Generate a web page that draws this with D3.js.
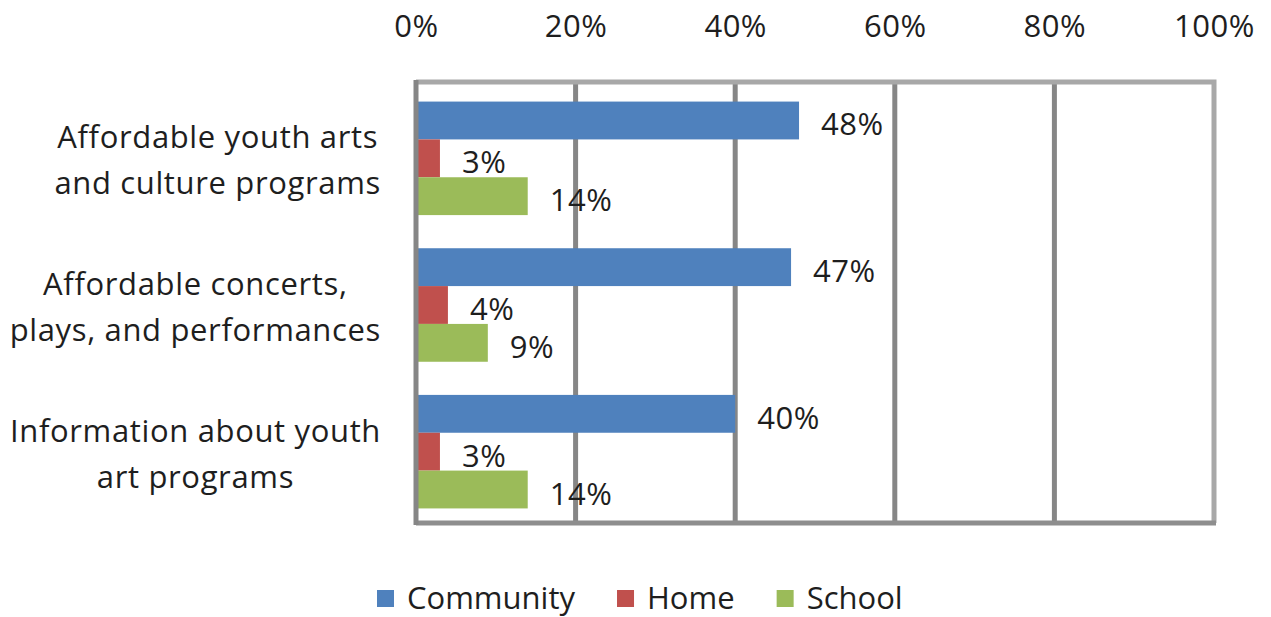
<!DOCTYPE html>
<html>
<head>
<meta charset="utf-8">
<script src="https://cdn.jsdelivr.net/npm/d3@7"></script>
<style>
  html, body { margin: 0; padding: 0; background: #ffffff; }
  svg { display: block; }
  text { font-family: "Open Sans", "DejaVu Sans", sans-serif; fill: #1e1e1e; }
</style>
</head>
<body>
<svg id="chart" width="1271" height="617"></svg>
<script>
// ---- data ----
const categories = [
  ["Affordable youth arts", "and culture programs"],
  ["Affordable concerts,", "plays, and performances"],
  ["Information about youth", "art programs"]
];
const seriesNames = ["Community", "Home", "School"];
const community = [48, 47, 40];
const home = [3, 4, 3];
const school = [14, 9, 14];
const xTicks = [0, 20, 40, 60, 80, 100];
const colors = ["#4F81BD", "#C0504D", "#9BBB59"];

const seriesValues = [community, home, school];
const catIds = categories.map((c, i) => i);

const svg = d3.select("#chart");
const plot = { left: 416, right: 1214, top: 82, bottom: 523 };
const fontSize = 31;

const x = d3.scaleLinear().domain([0, 100]).range([plot.left, plot.right]);
const y = d3.scaleBand().domain(catIds).range([85, 525]).paddingInner(0.226).paddingOuter(0.113);
const ySub = d3.scaleBand().domain(seriesNames).range([0, y.bandwidth()]).padding(0);

// gridlines
svg.append("g").selectAll("line")
  .data(xTicks.filter(t => t > 0 && t < 100))
  .join("line")
  .attr("x1", d => x(d)).attr("x2", d => x(d))
  .attr("y1", plot.top).attr("y2", plot.bottom)
  .attr("stroke", "#868686").attr("stroke-width", 5);

// top & right border (lighter)
svg.append("path")
  .attr("d", `M${plot.left},${plot.top}H${plot.right}V${plot.bottom}`)
  .attr("fill", "none").attr("stroke", "#a8a8a8").attr("stroke-width", 5);
// bottom border
svg.append("line")
  .attr("x1", plot.left).attr("x2", plot.right + 2)
  .attr("y1", plot.bottom).attr("y2", plot.bottom)
  .attr("stroke", "#8e8e8e").attr("stroke-width", 5);

// bars
const rows = [];
catIds.forEach(ci => seriesNames.forEach((s, si) => rows.push({ ci, s, si, v: seriesValues[si][ci] })));

svg.append("g").selectAll("rect")
  .data(rows)
  .join("rect")
  .attr("x", x(0))
  .attr("y", d => y(d.ci) + ySub(d.s))
  .attr("width", d => x(d.v) - x(0))
  .attr("height", ySub.bandwidth())
  .attr("fill", d => colors[d.si]);

// left axis line (vertical)
svg.append("line")
  .attr("x1", plot.left).attr("x2", plot.left)
  .attr("y1", plot.top - 2).attr("y2", plot.bottom + 2)
  .attr("stroke", "#868686").attr("stroke-width", 5);

// value labels
svg.append("g").selectAll("text")
  .data(rows)
  .join("text")
  .attr("x", d => x(d.v) + 22)
  .attr("y", d => y(d.ci) + ySub(d.s) + ySub.bandwidth() / 2 + 15)
  .attr("font-size", fontSize)
  .attr("letter-spacing", 0.5)
  .text(d => d.v + "%");

// top axis tick labels
const xAxis = d3.axisTop(x).tickValues(xTicks).tickSize(0).tickPadding(0).tickFormat(d => d + "%");
const ax = svg.append("g").attr("transform", "translate(0,37)").call(xAxis);
ax.select(".domain").remove();
ax.selectAll("text")
  .attr("font-size", fontSize)
  .attr("font-family", "'Open Sans', sans-serif")
  .attr("letter-spacing", 0.5)
  .attr("fill", "#1e1e1e");

// category labels (block right-aligned, lines centered)
const labelRight = 381;
catIds.forEach(ci => {
  const g = svg.append("g");
  const cy = y(ci) + y.bandwidth() / 2;
  const texts = categories[ci].map((line, li) =>
    g.append("text")
      .attr("font-size", fontSize)
      .attr("letter-spacing", 0.65)
      .attr("text-anchor", "middle")
      .attr("y", cy - 10 + li * 46)
      .text(line));
  const maxW = d3.max(texts, t => t.node().getComputedTextLength());
  texts.forEach(t => t.attr("x", labelRight - maxW / 2));
});

// legend
const legend = svg.append("g");
let lx = 377;
seriesNames.forEach((s, si) => {
  legend.append("rect").attr("x", lx).attr("y", 590).attr("width", 17).attr("height", 17).attr("fill", colors[si]);
  const t = legend.append("text").attr("x", lx + 30).attr("y", 609).attr("font-size", fontSize).text(s);
  lx = lx + 30 + t.node().getComputedTextLength() + 42;
});
</script>
</body>
</html>
